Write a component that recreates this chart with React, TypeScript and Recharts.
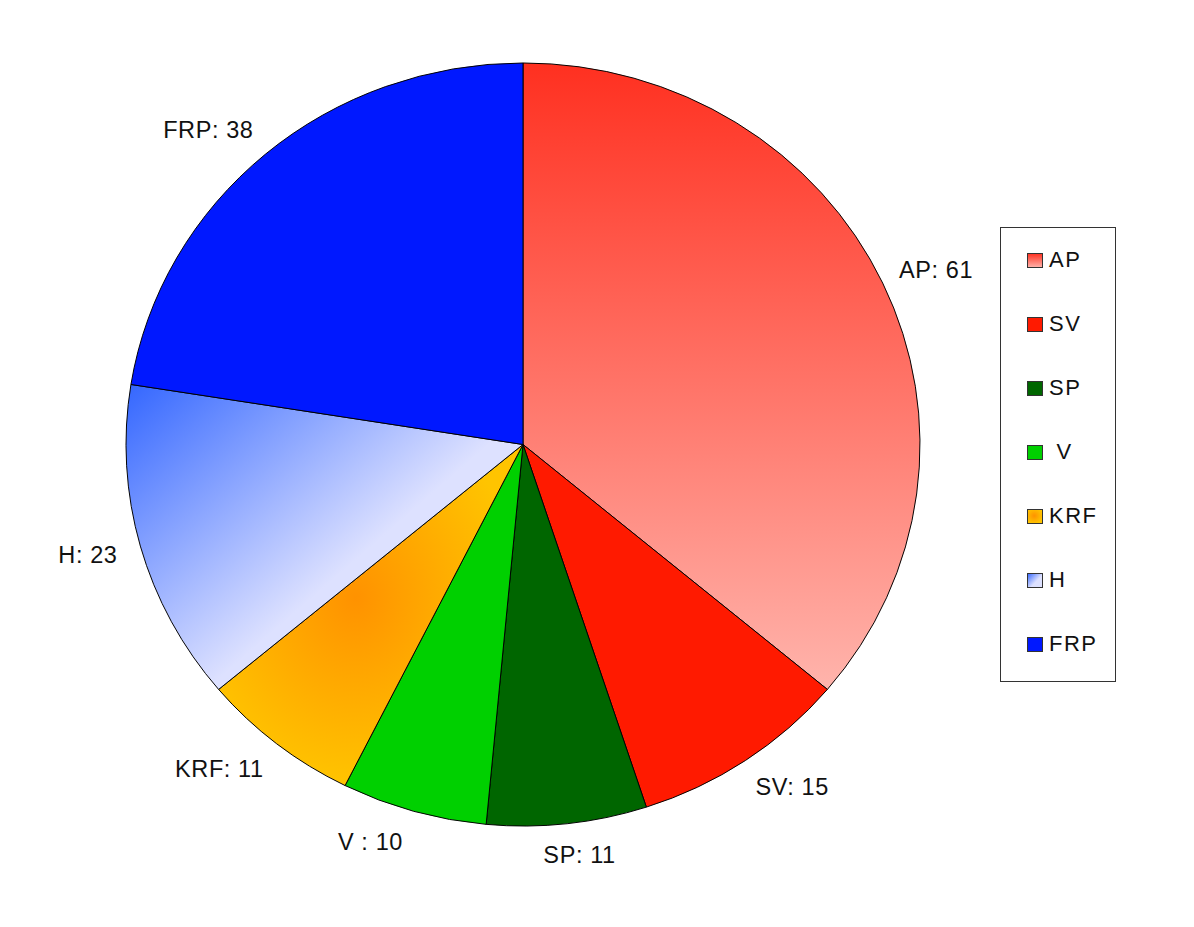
import { PieChart, Pie, Cell, Legend } from "recharts"

const PARTIES = ["AP", "SV", "SP", " V ", "KRF", "H", "FRP"]
const SEATS = [61, 15, 11, 10, 11, 23, 38]
const FILLS = [
  "url(#gradAP)", // AP, red fading to pink
  "#ff1a00", // SV
  "#006600", // SP
  "#00d000", // V
  "url(#gradKRF)", // KRF, orange glow
  "url(#gradH)", // H, blue fading to lavender
  "#0018ff", // FRP
]

const data = PARTIES.map((name, i) => ({ name, value: SEATS[i] }))

const CX = 523
const CY = 444.5
const RADIUS = 397
const SQUASH = 0.961 // the reference pie is slightly wider than tall
const RAD = Math.PI / 180
const LABEL_RX = 415
const LABEL_RY = 405
const LABEL_FONT = 23.5
const FONT = '"Liberation Sans", Arial, sans-serif'

const clamp = (v: number, lo: number, hi: number) => Math.max(lo, Math.min(hi, v))

function renderLabel(props: any) {
  const { cx, cy, midAngle, name, value } = props
  const text = `${String(name).trimStart()}: ${value}`
  const h = Math.cos(midAngle * RAD)
  const v = -Math.sin(midAngle * RAD)
  const x = cx + LABEL_RX * h
  const y = cy + LABEL_RY * v
  // push the label box away from the pie, depending on which side it sits
  const w = text.length * LABEL_FONT * 0.55
  const f = clamp(3 * h, -1, 1)
  const left = x - w * (0.5 - 0.5 * f)
  const yc = y + v * 8.5
  return (
    <text
      x={left}
      y={yc}
      textAnchor="start"
      dominantBaseline="central"
      fill="#111"
      fontSize={LABEL_FONT}
      fontFamily={FONT}
      letterSpacing={0.6}
      style={{ whiteSpace: "pre" }}
    >
      {text}
    </text>
  )
}

function renderLegend(props: any) {
  const payload = [...(props.payload || [])].sort(
    (a: any, b: any) => PARTIES.indexOf(a.value) - PARTIES.indexOf(b.value)
  )
  return (
    <div
      style={{
        boxSizing: "border-box",
        width: 116,
        height: 455,
        border: "1.5px solid #333",
        background: "#fff",
        fontFamily: FONT,
      }}
    >
      {payload.map((entry: any) => {
        const i = PARTIES.indexOf(entry.value)
        return (
          <div
            key={entry.value}
            style={{ height: 64, display: "flex", alignItems: "center", paddingLeft: 26 }}
          >
            <svg width={16} height={15} style={{ display: "block" }}>
              <rect x={0.5} y={0.5} width={15} height={14} fill={FILLS[i]} stroke="#333" strokeWidth={1} />
            </svg>
            <span style={{ marginLeft: 6, fontSize: 22, color: "#111", whiteSpace: "pre", letterSpacing: 1.5 }}>
              {entry.value}
            </span>
          </div>
        )
      })}
    </div>
  )
}

export default function App() {
  return (
    <div style={{ position: "absolute", left: 0, top: 0, width: 1194, height: 927, background: "#fff" }}>
      <style>{`.recharts-pie .recharts-sector { transform: translate(0px, ${CY * (1 - SQUASH)}px) scaleY(${SQUASH}); }`}</style>
      <PieChart width={1194} height={927} margin={{ top: 0, right: 0, bottom: 0, left: 0 }}>
        <defs>
          <linearGradient id="gradAP" x1="0" y1="0" x2="0" y2="1">
            <stop offset="0%" stopColor="#ff3020" />
            <stop offset="100%" stopColor="#ffb4ac" />
          </linearGradient>
          <radialGradient id="gradKRF" cx="0.45" cy="0.45" r="0.55">
            <stop offset="0%" stopColor="#ff9200" />
            <stop offset="100%" stopColor="#ffc400" />
          </radialGradient>
          <linearGradient id="gradH" x1="0" y1="0" x2="0.61" y2="0.54">
            <stop offset="0%" stopColor="#3366ff" />
            <stop offset="100%" stopColor="#dde1ff" />
          </linearGradient>
        </defs>
        <Pie
          data={data}
          dataKey="value"
          nameKey="name"
          cx={CX}
          cy={CY}
          outerRadius={RADIUS}
          startAngle={90}
          endAngle={-270}
          stroke="#000"
          strokeWidth={1}
          label={renderLabel}
          labelLine={false}
          isAnimationActive={false}
        >
          {data.map((d, i) => (
            <Cell key={d.name} fill={FILLS[i]} />
          ))}
        </Pie>
        <Legend
          layout="vertical"
          align="right"
          verticalAlign="top"
          content={renderLegend}
          wrapperStyle={{ left: 1000, top: 227, right: "auto", bottom: "auto", width: 116, height: 455 }}
        />
      </PieChart>
    </div>
  )
}
